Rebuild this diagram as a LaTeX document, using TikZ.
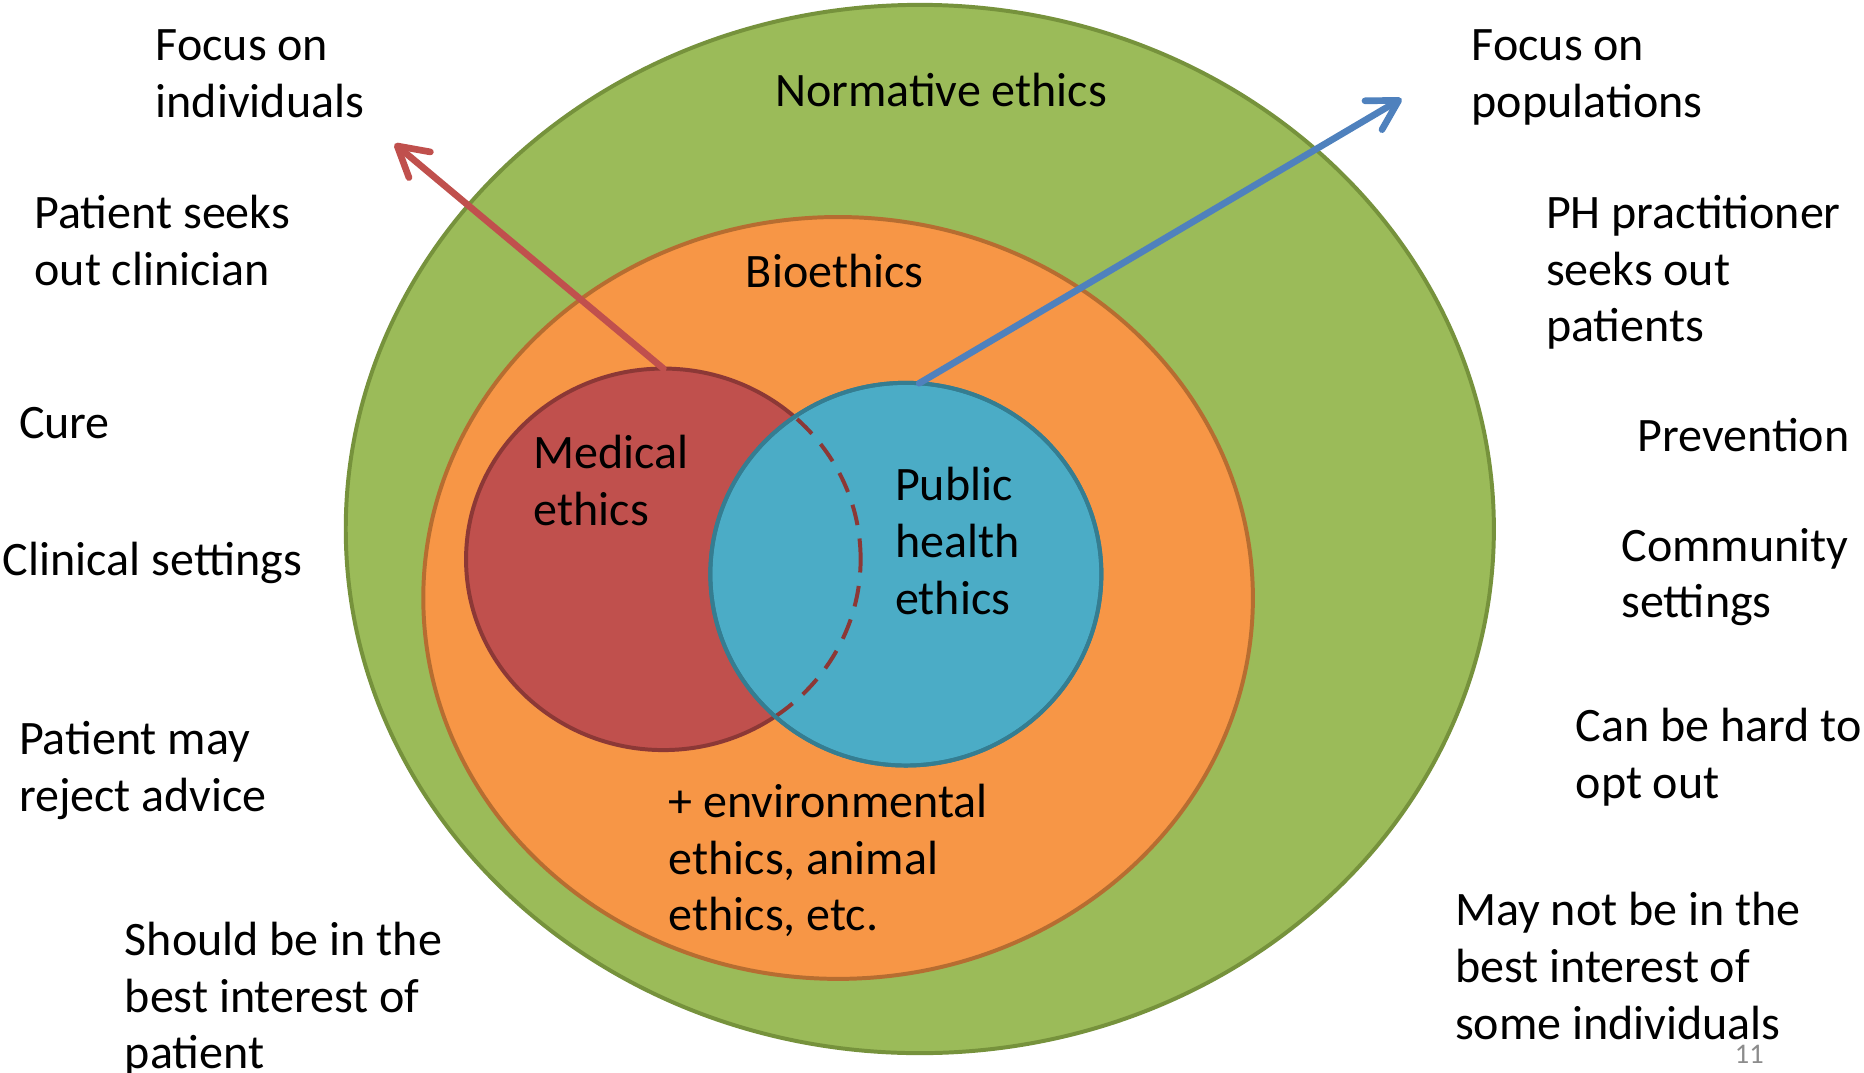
\documentclass[tikz,border=0pt]{standalone}
\usepackage{fontspec}
\setmainfont{Carlito}
\usetikzlibrary{shapes.geometric,arrows.meta}
\definecolor{gfill}{HTML}{9BBB59}
\definecolor{gline}{HTML}{76923C}
\definecolor{ofill}{HTML}{F79646}
\definecolor{oline}{HTML}{B66D31}
\definecolor{rfill}{HTML}{C0504D}
\definecolor{rline}{HTML}{8C3836}
\definecolor{bfill}{HTML}{4BACC6}
\definecolor{bline}{HTML}{357D91}
\definecolor{barrow}{HTML}{4F81BD}
\definecolor{numgray}{HTML}{8C8C8C}
\newcommand\topstrut{\rule{0pt}{0.6cm}}
\begin{document}
\begin{tikzpicture}[x=0.02cm,y=-0.02cm,
  blob/.style={shape=ellipse,inner sep=0pt,outer sep=0pt,line width=1.9pt},
  lbl/.style={anchor=north west,inner sep=0pt,outer sep=0pt,align=left,
    font=\fontsize{23}{27.21}\selectfont},
  arr/.style={line width=3.2pt,line cap=round,-{Straight Barb[length=14pt,width=16pt,line width=3.2pt,round]}}]
\useasboundingbox (0,0) rectangle (1568,902.6);
% ellipses
\node[blob,fill=gfill,draw=gline,minimum width=19.32cm,minimum height=17.64cm] (norm) at (773.75,445) {};
\node[blob,fill=ofill,draw=oline,minimum width=13.96cm,minimum height=12.82cm] (bio) at (705,503) {};
\node[blob,fill=rfill,draw=rline,minimum width=6.64cm,minimum height=6.42cm] (med) at (558,470.5) {};
\node[blob,fill=bfill,draw=bline,minimum width=6.58cm,minimum height=6.44cm] (pub) at (762,483) {};
\begin{scope}
  \clip (pub.center) ellipse [x radius=3.29cm,y radius=3.22cm];
  \draw[rline,line width=1.9pt,dash pattern=on 10pt off 6.5pt] (med.center) ellipse [x radius=3.32cm,y radius=3.21cm];
\end{scope}
\draw[bline,line width=1.9pt] (pub.center) ellipse [x radius=3.29cm,y radius=3.22cm];
% arrows
\coordinate (tipL) at (332,121);
\coordinate (tipR) at (1179,83);
\draw[arr,rfill] (med.north) -- (tipL);
\draw[arr,barrow] (pub.86) -- (tipR);
% inner labels
\node[lbl] (tnorm) at (652,60) {\topstrut Normative ethics};
\node[lbl] (tbio) at (627.5,211.6) {\topstrut Bioethics};
\node[lbl] (tmed) at (449,363.9) {\topstrut Medical\\ethics};
\node[lbl] (tpub) at (753,391) {\topstrut Public\\health\\ethics};
\node[lbl] (tenv) at (562.5,657.5) {\topstrut + environmental\\ethics, animal\\ethics, etc.};
% left labels
\node[lbl] (fl) at (131,20.7) {\topstrut Focus on\\individuals};
\node[lbl] (pse) at (29,162.4) {\topstrut Patient seeks\\out clinician};
\node[lbl] (cure) at (16,338.7) {\topstrut Cure};
\node[lbl] (clin) at (2.5,453.7) {\topstrut Clinical settings};
\node[lbl] (pmay) at (16,605) {\topstrut Patient may\\reject advice};
\node[lbl] (should) at (105,773.5) {\topstrut Should be in the\\best interest of\\patient};
% right labels
\node[lbl] (fr) at (1238,20.7) {\topstrut Focus on\\populations};
\node[lbl] (ph) at (1300.5,162) {\topstrut PH practitioner\\seeks out\\patients};
\node[lbl] (prev) at (1377.5,350) {\topstrut Prevention};
\node[lbl] (comm) at (1364,442) {\topstrut Community\\settings};
\node[lbl] (hard) at (1325.5,593.8) {\topstrut Can be hard to\\opt out};
\node[lbl] (maynot) at (1224,748.7) {\topstrut May not be in the\\best interest of\\some individuals};
\node[anchor=base west,inner sep=0pt,text=numgray,font=\fontsize{13.6}{16}\selectfont] (num) at (1459,895) {11};
\end{tikzpicture}
\end{document}
